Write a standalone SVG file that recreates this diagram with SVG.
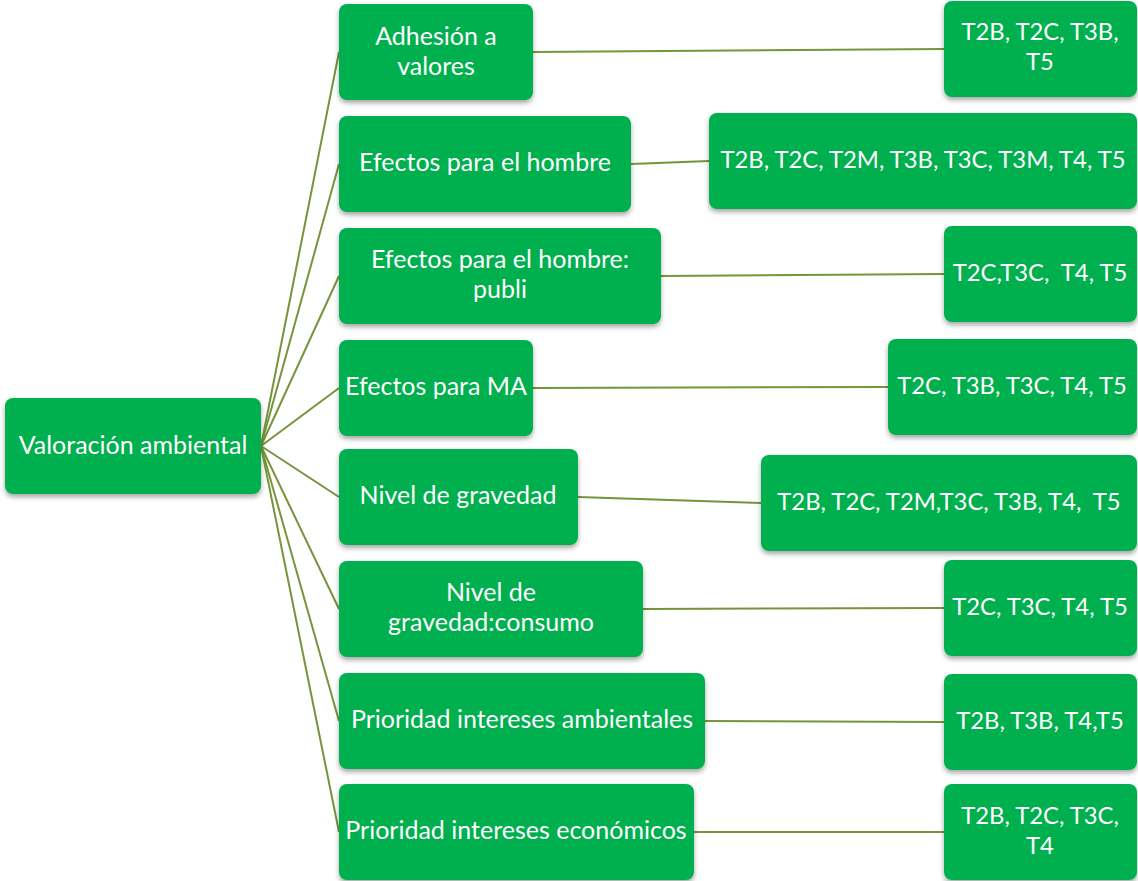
<svg xmlns="http://www.w3.org/2000/svg" width="1138" height="881" viewBox="0 0 1138 881">
  <defs>
    <filter id="shadow" x="-5%" y="-10%" width="110%" height="130%">
      <feDropShadow dx="0" dy="3" stdDeviation="2.5" flood-color="#000" flood-opacity="0.35"/>
    </filter>
    <style>
      .box { fill: #00B050; filter: url(#shadow); }
      .lbl { fill: #fff; font-family: Lato, "Open Sans", sans-serif; font-size: 25px; text-anchor: middle; white-space: pre; }
      .tasks { font-size: 23.8px; }
      .link { stroke: #77933C; stroke-width: 2; fill: none; }
    </style>
  </defs>
  <rect width="1138" height="881" fill="#fff"/>

  <!-- connectors -->
  <g id="connectors">
    <line class="link" x1="261" y1="446" x2="339" y2="52"/>
    <line class="link" x1="261" y1="446" x2="339" y2="164"/>
    <line class="link" x1="261" y1="446" x2="339" y2="276"/>
    <line class="link" x1="261" y1="446" x2="339" y2="388"/>
    <line class="link" x1="261" y1="446" x2="339" y2="497"/>
    <line class="link" x1="261" y1="446" x2="339" y2="609"/>
    <line class="link" x1="261" y1="446" x2="339" y2="721"/>
    <line class="link" x1="261" y1="446" x2="339" y2="832"/>
    <line class="link" x1="533" y1="52" x2="944" y2="49"/>
    <line class="link" x1="631" y1="164" x2="709" y2="161"/>
    <line class="link" x1="661" y1="276" x2="944" y2="274"/>
    <line class="link" x1="533" y1="388" x2="888" y2="387"/>
    <line class="link" x1="578" y1="497" x2="761" y2="503"/>
    <line class="link" x1="643" y1="609" x2="944" y2="608"/>
    <line class="link" x1="705" y1="721" x2="944" y2="722"/>
    <line class="link" x1="694" y1="832" x2="944" y2="832"/>
  </g>

  <!-- root -->
  <g id="root">
    <rect class="box" x="5" y="398" width="256" height="96" rx="8"/>
    <text class="lbl" x="133" y="454">Valoración ambiental</text>
  </g>

  <!-- criteria -->
  <g id="adhesion">
    <rect class="box" x="339" y="4" width="194" height="96" rx="8"/>
    <text class="lbl" x="436" y="45">Adhesión a</text>
    <text class="lbl" x="436" y="75">valores</text>
  </g>
  <g id="efectos-hombre">
    <rect class="box" x="339" y="116" width="292" height="96" rx="8"/>
    <text class="lbl" x="485" y="171">Efectos para el hombre</text>
  </g>
  <g id="efectos-hombre-publi">
    <rect class="box" x="339" y="228" width="322" height="96" rx="8"/>
    <text class="lbl" x="500" y="268">Efectos para el hombre:</text>
    <text class="lbl" x="500" y="298">publi</text>
  </g>
  <g id="efectos-ma">
    <rect class="box" x="339" y="340" width="194" height="96" rx="8"/>
    <text class="lbl" x="436" y="395">Efectos para MA</text>
  </g>
  <g id="nivel-gravedad">
    <rect class="box" x="339" y="449" width="239" height="96" rx="8"/>
    <text class="lbl" x="458" y="504">Nivel de gravedad</text>
  </g>
  <g id="nivel-gravedad-consumo">
    <rect class="box" x="339" y="561" width="304" height="96" rx="8"/>
    <text class="lbl" x="491" y="601">Nivel de</text>
    <text class="lbl" x="491" y="631">gravedad:consumo</text>
  </g>
  <g id="prioridad-ambientales">
    <rect class="box" x="339" y="673" width="366" height="96" rx="8"/>
    <text class="lbl" x="522" y="728">Prioridad intereses ambientales</text>
  </g>
  <g id="prioridad-economicos">
    <rect class="box" x="339" y="784" width="355" height="96" rx="8"/>
    <text class="lbl" x="516" y="839">Prioridad intereses económicos</text>
  </g>

  <!-- task lists -->
  <g id="t-adhesion">
    <rect class="box" x="944" y="1" width="193" height="96" rx="8"/>
    <text class="lbl tasks" x="1040" y="40">T2B, T2C, T3B,</text>
    <text class="lbl tasks" x="1040" y="70">T5</text>
  </g>
  <g id="t-efectos-hombre">
    <rect class="box" x="709" y="113" width="428" height="96" rx="8"/>
    <text class="lbl tasks" x="923" y="168">T2B, T2C, T2M, T3B, T3C, T3M, T4, T5</text>
  </g>
  <g id="t-efectos-hombre-publi">
    <rect class="box" x="944" y="226" width="193" height="96" rx="8"/>
    <text class="lbl tasks" x="1040" y="281">T2C,T3C,  T4, T5</text>
  </g>
  <g id="t-efectos-ma">
    <rect class="box" x="888" y="339" width="249" height="96" rx="8"/>
    <text class="lbl tasks" x="1012" y="394">T2C, T3B, T3C, T4, T5</text>
  </g>
  <g id="t-nivel-gravedad">
    <rect class="box" x="761" y="455" width="376" height="96" rx="8"/>
    <text class="lbl tasks" x="949" y="510">T2B, T2C, T2M,T3C, T3B, T4,  T5</text>
  </g>
  <g id="t-nivel-gravedad-consumo">
    <rect class="box" x="944" y="560" width="193" height="96" rx="8"/>
    <text class="lbl tasks" x="1040" y="615">T2C, T3C, T4, T5</text>
  </g>
  <g id="t-prioridad-ambientales">
    <rect class="box" x="944" y="674" width="193" height="96" rx="8"/>
    <text class="lbl tasks" x="1040" y="729">T2B, T3B, T4,T5</text>
  </g>
  <g id="t-prioridad-economicos">
    <rect class="box" x="944" y="784" width="193" height="96" rx="8"/>
    <text class="lbl tasks" x="1040" y="824">T2B, T2C, T3C,</text>
    <text class="lbl tasks" x="1040" y="854">T4</text>
  </g>
</svg>
